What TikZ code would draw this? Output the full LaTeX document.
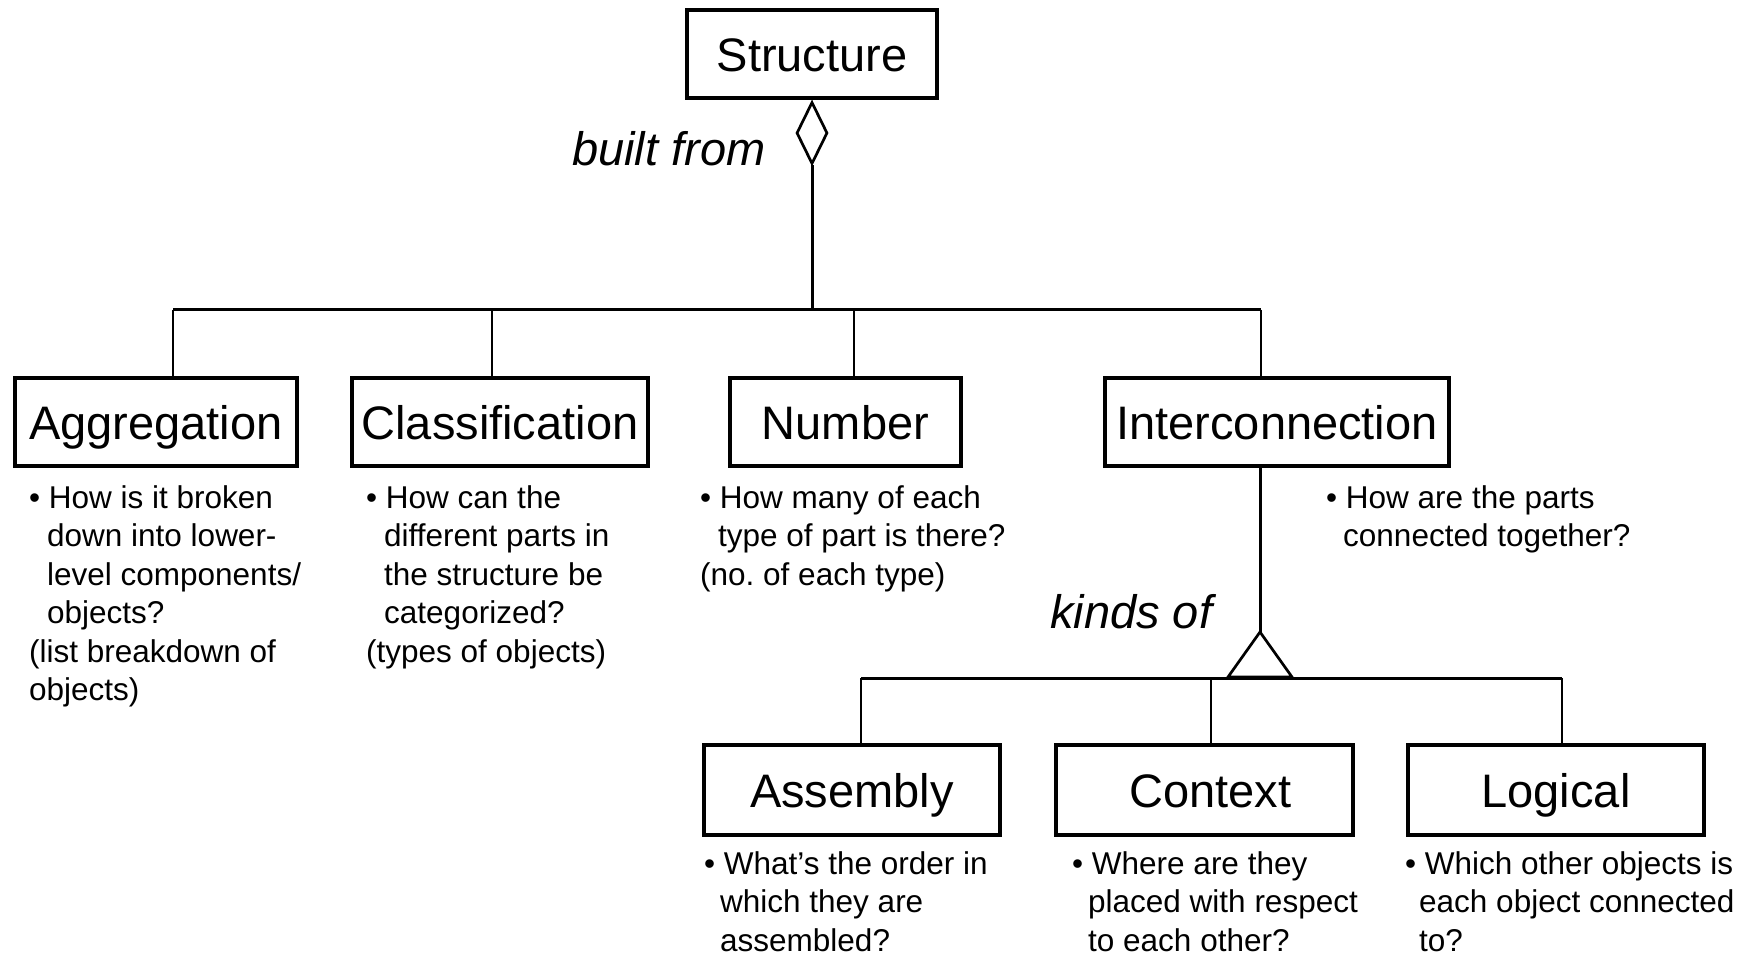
\documentclass[tikz,border=0pt]{standalone}
\usepackage{fontspec}
\setmainfont{Liberation Sans}
\usetikzlibrary{shapes.geometric}
\begin{document}
\frenchspacing
\begin{tikzpicture}[x=1pt,y=-1pt,
  box/.style={draw, line width=4pt, inner sep=0pt, minimum height=88pt,
    text height=35pt, text depth=0pt, font=\fontsize{47}{56}\selectfont},
  desc/.style={align=left, inner sep=0pt, anchor=base west,
    font=\fontsize{31.5}{38.5}\selectfont},
  rel/.style={inner sep=0pt, anchor=base west, font=\fontsize{47}{56}\selectfont\itshape},
  link/.style={line width=3pt},
  drop/.style={line width=2.7pt},
  head/.style={line width=2.7pt, line join=miter, fill=white}]
\useasboundingbox (0,0) rectangle (1750,957);

% class boxes
\node[box, minimum width=250pt] (struct) at (812,54) {Structure};
\node[box, minimum width=282pt] (agg) at (156,422) {Aggregation};
\node[box, minimum width=296pt] (cls) at (500,422) {Classification};
\node[box, minimum width=231pt] (num) at (845.5,422) {Number};
\node[box, minimum width=344pt] (inter) at (1277,422) {Interconnection};
\node[box, minimum width=296pt, minimum height=90pt] (asm) at (852,790) {Assembly};
\node[box, minimum width=297pt, minimum height=90pt] (ctx) at (1204.5,790) {\hspace*{12pt}Context};
\node[box, minimum width=296pt, minimum height=90pt] (logi) at (1556,790) {Logical};

% aggregation diamond and the bus below it
\node[diamond, draw, head, inner sep=0pt, minimum width=31pt, minimum height=62pt] (dmd) at (812,133) {};
\coordinate (jA) at (173,310);
\coordinate (jC) at (492,310);
\coordinate (jN) at (854,310);
\coordinate (jI) at (1261,310);
\coordinate (jS) at (812,310);
\draw[link] (dmd.south) -- (jS);
\draw[link] (jA) -- (jI);
\draw[drop] (jA) -- (jA |- agg.north);
\draw[drop] (jC) -- (jC |- cls.north);
\draw[drop] (jN) -- (jN |- num.north);
\draw[drop] (jI) -- (jI |- inter.north);

% generalisation triangle and the lower bus
\coordinate (apex) at (1260,632);
\coordinate (tl) at (1228,677);
\coordinate (tr) at (1292,677);
\coordinate (kA) at (861,678);
\coordinate (kC) at (1211,678);
\coordinate (kL) at (1562,678);
\draw[link] (apex |- inter.south) -- (apex);
\draw[link] (kA) -- (kL);
\draw[head] (apex) -- (tl) -- (tr) -- cycle;
\draw[drop] (kA) -- (kA |- asm.north);
\draw[drop] (kC) -- (kC |- ctx.north);
\draw[drop] (kL) -- (kL |- logi.north);

% relation labels
\node[rel] (builtfrom) at (572,166) {built from};
\node[rel] (kindsof) at (1050,628) {kinds of};

% questions under each box (anchored at the baseline of the last line)
\node[desc] (aggq) at (29,700.5) {\textbullet\ How is it broken\\\hspace*{18pt}down into lower-\\\hspace*{18pt}level components/\\\hspace*{18pt}objects?\\(list breakdown of\\objects)};
\node[desc] (clsq) at (366,662) {\textbullet\ How can the\\\hspace*{18pt}different parts in\\\hspace*{18pt}the structure be\\\hspace*{18pt}categorized?\\(types of objects)};
\node[desc] (numq) at (700,585) {\textbullet\ How many of each\\\hspace*{18pt}type of part is there?\\(no. of each type)};
\node[desc] (intq) at (1326,546.5) {\textbullet\ How are the parts\\\hspace*{17pt}connected together?};
\node[desc] (asmq) at (704,951) {\textbullet\ What’s the order in\\\hspace*{16pt}which they are\\\hspace*{16pt}assembled?};
\node[desc] (ctxq) at (1072,951) {\textbullet\ Where are they\\\hspace*{16pt}placed with respect\\\hspace*{16pt}to each other?};
\node[desc] (logq) at (1405,951) {\textbullet\ Which other objects is\\\hspace*{14pt}each object connected\\\hspace*{14pt}to?};
\end{tikzpicture}
\end{document}
